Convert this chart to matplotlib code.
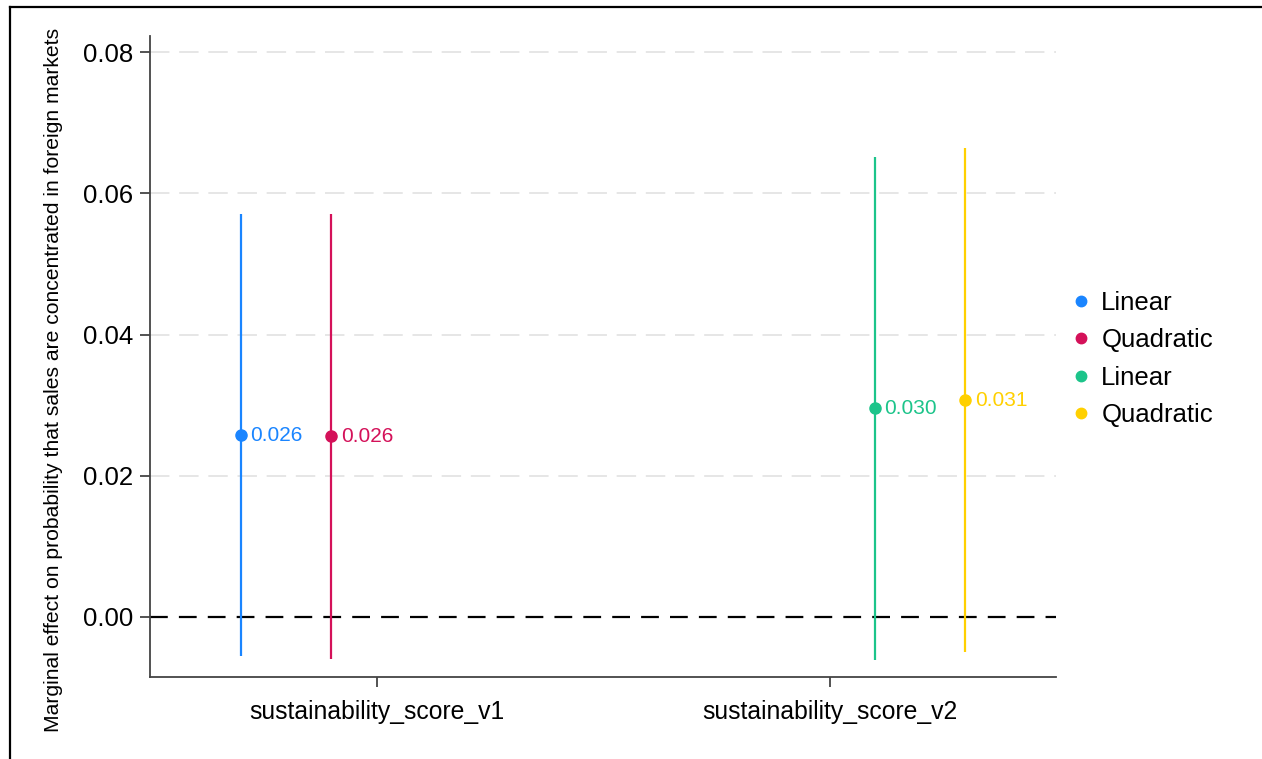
import matplotlib
matplotlib.use("Agg")
import matplotlib.pyplot as plt
from matplotlib.lines import Line2D

plt.rcParams["font.family"] = ["Liberation Sans", "DejaVu Sans"]

# Coefficient estimates with 95% confidence intervals
categories = ["sustainability_score_v1", "sustainability_score_v2"]
series_names = ["Linear", "Quadratic", "Linear", "Quadratic"]
category_index = [0, 0, 1, 1]
estimates = [0.0258, 0.0256, 0.0296, 0.0307]
ci_low = [-0.0055, -0.0059, -0.0061, -0.0050]
ci_high = [0.0571, 0.0571, 0.0652, 0.0664]
yticks = [0.00, 0.02, 0.04, 0.06, 0.08]

colors = ["#1A85FF", "#D41159", "#1CC48A", "#FFD000"]
dodge = [-0.3, -0.1, 0.1, 0.3]

W, H = 1262, 759
fig = plt.figure(figsize=(W / 100, H / 100), dpi=100)
ax = fig.add_axes([150 / W, (H - 677) / H, (1056 - 150) / W, (677 - 36) / H])

# light dashed horizontal grid
for t in yticks[1:]:
    ax.axhline(t, color="#e6e6e6", lw=1.4, ls=(0, (10, 5)), zorder=0)
ax.axhline(0, color="black", lw=1.6, ls=(0, (8, 5)), zorder=1)

handles = []
for i in range(len(estimates)):
    x = category_index[i] + dodge[i]
    ax.vlines(x, ci_low[i], ci_high[i], color=colors[i], lw=1.6, zorder=2)
    ax.plot(x, estimates[i], "o", color=colors[i], ms=8, zorder=3)
    ax.annotate(f"{estimates[i]:.3f}", (x, estimates[i]), xytext=(7, -0.5),
                textcoords="offset points", va="center", ha="left",
                color=colors[i], fontsize=15)
    handles.append(Line2D([], [], marker="o", ls="none", color=colors[i], ms=7.5))

ax.set_xlim(-0.5, 1.5)
ax.set_ylim(-0.0085, 0.08227)
ax.set_xticks(range(len(categories)))
ax.set_xticklabels(categories, fontsize=17.8)
ax.set_yticks(yticks)
ax.set_yticklabels([f"{t:.2f}" for t in yticks], fontsize=18.5)
ax.set_ylabel("Marginal effect on probability that sales are concentrated in foreign markets",
              fontsize=15.2, va="center")
ax.yaxis.set_label_coords(-0.107, 0.463)

for s in ["top", "right"]:
    ax.spines[s].set_visible(False)
for s in ["left", "bottom"]:
    ax.spines[s].set_color("#444444")
    ax.spines[s].set_linewidth(1.3)
ax.tick_params(axis="y", length=7.2, width=1.3, color="#444444", pad=5)
ax.tick_params(axis="x", length=7.2, width=1.3, color="#444444", pad=9)

fig.legend(handles, series_names, loc="center left",
           bbox_to_anchor=(1073 / W, 1 - 359 / H), frameon=False,
           fontsize=18.5, handlelength=0.6, handletextpad=0.5,
           labelspacing=0.52, borderaxespad=0, borderpad=0)

# outer frame
fig.add_artist(Line2D([10 / W, 1], [1 - 7 / H, 1 - 7 / H], transform=fig.transFigure,
                      color="black", lw=1.6))
fig.add_artist(Line2D([10 / W, 10 / W], [0, 1 - 7 / H], transform=fig.transFigure,
                      color="black", lw=1.6))

fig.savefig("out.png", dpi=100)
